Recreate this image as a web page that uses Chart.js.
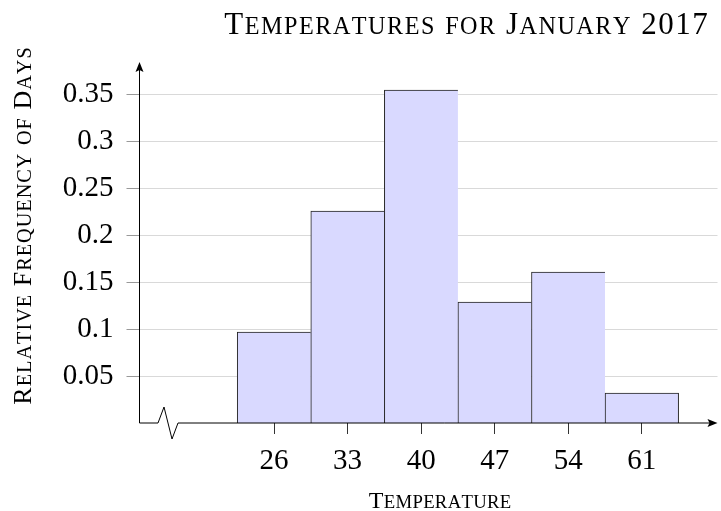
<!DOCTYPE html>
<html>
<head>
<meta charset="utf-8">
<script src="https://cdn.jsdelivr.net/npm/chart.js@4.4.1/dist/chart.umd.min.js"></script>
<style>
  html, body { margin: 0; padding: 0; background: #fff; }
  #wrap { width: 721px; height: 511px; }
</style>
</head>
<body>
<div id="wrap"><canvas id="histChart"></canvas></div>
<script>
// histogram data (bin centres, bin width 7)
const binCenters = [26, 33, 40, 47, 54, 61];
const relFreq = [0.097, 0.226, 0.355, 0.129, 0.161, 0.032];
const xTickValues = [26, 33, 40, 47, 54, 61];
const yTickValues = [0.05, 0.1, 0.15, 0.2, 0.25, 0.3, 0.35];

const chartTitle = 'Temperatures for January 2017';
const xTitle = 'Temperature';
const yTitle = 'Relative Frequency of Days';

const FONT = "'Liberation Serif', 'DejaVu Serif', serif";

// small caps by hand: capitals full size, lower case as smaller capitals
function drawSmallCaps(ctx, text, x, y, size, spacing) {
    const chars = [...text].map(ch => ({
        t: ch.toUpperCase(),
        s: ch !== ch.toUpperCase() ? size * 0.78 : size
    }));
    let total = 0;
    chars.forEach(c => {
        ctx.font = `${c.s}px ${FONT}`;
        c.w = ctx.measureText(c.t).width + spacing;
        total += c.w;
    });
    total -= spacing;
    let cx = x - total / 2;
    ctx.textAlign = 'left';
    ctx.textBaseline = 'alphabetic';
    chars.forEach(c => {
        ctx.font = `${c.s}px ${FONT}`;
        ctx.fillText(c.t, cx, y);
        cx += c.w;
    });
}

const axesPlugin = {
    id: 'axesDecor',
    afterDatasetsDraw(chart) {
        const ctx = chart.ctx;
        const a = chart.chartArea;
        ctx.save();
        ctx.strokeStyle = '#000';
        ctx.fillStyle = '#000';
        ctx.lineWidth = 1;

        // y axis with arrow
        ctx.beginPath();
        ctx.moveTo(a.left, a.bottom);
        ctx.lineTo(a.left, a.top + 6);
        ctx.stroke();
        ctx.beginPath();
        ctx.moveTo(a.left, a.top);
        ctx.lineTo(a.left - 4, a.top + 10);
        ctx.lineTo(a.left, a.top + 8);
        ctx.lineTo(a.left + 4, a.top + 10);
        ctx.closePath();
        ctx.fill();

        // x axis with break symbol and arrow
        ctx.beginPath();
        ctx.moveTo(a.left, a.bottom);
        ctx.lineTo(a.left + 18.5, a.bottom);
        ctx.lineTo(a.left + 24.5, a.bottom - 16);
        ctx.lineTo(a.left + 32.5, a.bottom + 16);
        ctx.lineTo(a.left + 38.5, a.bottom);
        ctx.lineTo(a.right - 6, a.bottom);
        ctx.stroke();
        ctx.beginPath();
        ctx.moveTo(a.right, a.bottom);
        ctx.lineTo(a.right - 10, a.bottom - 4);
        ctx.lineTo(a.right - 8, a.bottom);
        ctx.lineTo(a.right - 10, a.bottom + 4);
        ctx.closePath();
        ctx.fill();

        // titles
        drawSmallCaps(ctx, chartTitle, 466, 34, 31, 1.5);
        drawSmallCaps(ctx, xTitle, 440, 508, 24, 0.3);
        ctx.translate(31, 226);
        ctx.rotate(-Math.PI / 2);
        drawSmallCaps(ctx, yTitle, 0, 0, 26, 1);
        ctx.restore();
    }
};

const ctx = document.getElementById('histChart').getContext('2d');

new Chart(ctx, {
    type: 'bar',
    data: {
        datasets: [{
            data: binCenters.map((x, i) => ({ x: x, y: relFreq[i] })),
            backgroundColor: '#d9d9ff',
            borderColor: '#222',
            borderSkipped: false,
            borderWidth: c => ({
                top: 1,
                left: 1,
                bottom: 0,
                right: c.dataIndex === relFreq.length - 1 ? 1 : 0
            }),
            barPercentage: 1,
            categoryPercentage: 1
        }]
    },
    options: {
        responsive: true,
        maintainAspectRatio: false,
        animation: false,
        layout: {
            padding: { left: 0, right: 3.5, top: 62, bottom: 0 }
        },
        plugins: {
            legend: { display: false },
            tooltip: { enabled: false },
            title: { display: false }
        },
        scales: {
            x: {
                type: 'linear',
                offset: false,
                min: 13.2,
                max: 68.2,
                afterBuildTicks: s => { s.ticks = xTickValues.map(v => ({ value: v })); },
                afterFit: s => { s.height = 88; },
                border: { display: false },
                grid: {
                    offset: false,
                    drawOnChartArea: false,
                    drawTicks: true,
                    tickLength: 11,
                    tickColor: '#333'
                },
                ticks: {
                    autoSkip: false,
                    maxRotation: 0,
                    padding: 10,
                    color: '#000',
                    font: { family: FONT, size: 29 }
                }
            },
            y: {
                min: 0,
                max: 0.385,
                afterBuildTicks: s => { s.ticks = yTickValues.map(v => ({ value: v })); },
                afterFit: s => { s.width = 139.5; },
                border: { display: false },
                grid: {
                    color: '#d9d9d9',
                    tickLength: 13,
                    tickColor: '#999'
                },
                ticks: {
                    padding: 13,
                    color: '#000',
                    font: { family: FONT, size: 29 },
                    callback: v => String(+v.toFixed(2))
                }
            }
        }
    },
    plugins: [axesPlugin]
});
</script>
</body>
</html>
